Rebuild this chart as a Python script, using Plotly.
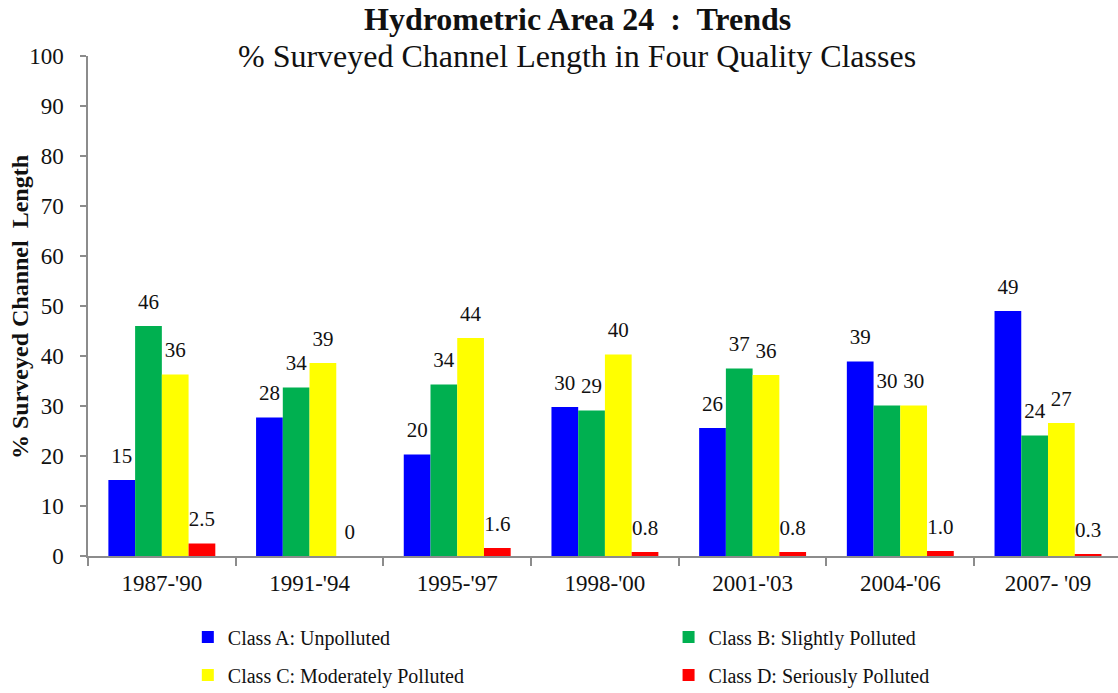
import plotly.graph_objects as go

periods = ["1987-'90", "1991-'94", "1995-'97", "1998-'00", "2001-'03", "2004-'06", "2007- '09"]
class_a = [15.2, 27.7, 20.3, 29.8, 25.6, 38.9, 49.0]
class_b = [46.0, 33.7, 34.3, 29.1, 37.5, 30.1, 24.1]
class_c = [36.3, 38.6, 43.6, 40.3, 36.2, 30.1, 26.6]
class_d = [2.5, 0.0, 1.6, 0.8, 0.8, 1.0, 0.3]

labels_a = ["15", "28", "20", "30", "26", "39", "49"]
labels_b = ["46", "34", "34", "29", "37", "30", "24"]
labels_c = ["36", "39", "44", "40", "36", "30", "27"]
labels_d = ["2.5", "0", "1.6", "0.8", "0.8", "1.0", "0.3"]

names = ["Class A: Unpolluted", "Class B: Slightly Polluted",
         "Class C: Moderately Polluted", "Class D: Seriously Polluted"]
colors = ["#0000FF", "#00B050", "#FFFF00", "#FF0000"]
legend_ids = ["legend", "legend2", "legend", "legend2"]

FONT = "Liberation Serif"
series = [class_a, class_b, class_c, class_d]
labels = [labels_a, labels_b, labels_c, labels_d]

fig = go.Figure()
for i, (vals, name, col, lg) in enumerate(zip(series, names, colors, legend_ids)):
    fig.add_trace(go.Bar(
        x=periods, y=vals, name=name, marker=dict(color=col, line=dict(width=0)),
        legend=lg, legendgroup=name, hoverinfo="skip",
    ))
for i, (vals, lab) in enumerate(zip(series, labels)):
    fig.add_trace(go.Scatter(
        x=periods, y=vals, text=lab, mode="markers+text",
        textposition="top center",
        marker=dict(size=18, opacity=0),
        textfont=dict(family=FONT, size=21, color="#111"),
        showlegend=False, cliponaxis=False, hoverinfo="skip",
    ))

gap = 0.276
fig.update_layout(
    width=1118, height=693,
    margin=dict(l=88, r=0, t=56, b=137, autoexpand=False),
    plot_bgcolor="white", paper_bgcolor="white",
    barmode="group", bargap=gap, bargroupgap=0,
    scattermode="group", scattergap=gap,
    font=dict(family=FONT, color="#111"),
    xaxis=dict(
        range=[-0.5, 6.474], showline=True, linecolor="#8c8c8c", linewidth=1.5,
        ticks="outside", tickson="boundaries", ticklen=8, tickcolor="#8c8c8c",
        tickwidth=1.5, tickfont=dict(family=FONT, size=23, color="#111"),
        showgrid=False, zeroline=False, ticklabelstandoff=6, automargin=False,
    ),
    yaxis=dict(
        range=[0, 100], dtick=10, showline=True, linecolor="#8c8c8c", linewidth=1.5,
        ticks="outside", ticklen=6, tickcolor="#8c8c8c", tickwidth=1.5,
        tickfont=dict(family=FONT, size=23, color="#111"),
        showgrid=False, zeroline=False, ticklabelstandoff=12, automargin=False,
    ),
    legend=dict(
        xref="container", yref="container",
        x=0.168, y=0.109, xanchor="left", yanchor="top", orientation="v",
        font=dict(family=FONT, size=20, color="#111"), tracegroupgap=9,
        bgcolor="rgba(0,0,0,0)",
    ),
    legend2=dict(
        xref="container", yref="container",
        x=0.598, y=0.109, xanchor="left", yanchor="top", orientation="v",
        font=dict(family=FONT, size=20, color="#111"), tracegroupgap=9,
        bgcolor="rgba(0,0,0,0)",
    ),
    annotations=[
        dict(text="<b>Hydrometric Area 24  :  Trends</b>", x=0.4752, y=1.034,
             xref="paper", yref="paper", xanchor="center", yanchor="bottom",
             showarrow=False, font=dict(family=FONT, size=32, color="#111")),
        dict(text="% Surveyed Channel Length in Four Quality Classes", x=0.4752, y=0.960,
             xref="paper", yref="paper", xanchor="center", yanchor="bottom",
             showarrow=False, font=dict(family=FONT, size=32, color="#111")),
        dict(text="<b>% Surveyed Channel  Length</b>", x=-0.066, y=0.498,
             xref="paper", yref="paper", xanchor="center", yanchor="middle",
             textangle=-90, showarrow=False,
             font=dict(family=FONT, size=24, color="#111")),
    ],
)

fig.write_html("out.html", config={"displayModeBar": False},
               post_script="document.body.style.margin='0';")
